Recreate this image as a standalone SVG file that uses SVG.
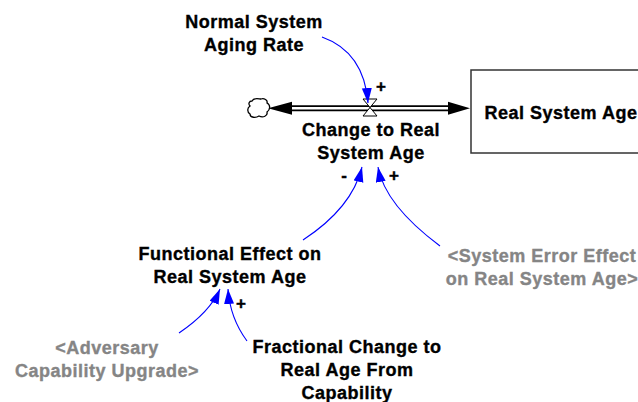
<svg xmlns="http://www.w3.org/2000/svg" width="638" height="402" viewBox="0 0 638 402">
  <style>
    .lbl { font-family: "Liberation Sans", Arial, sans-serif; font-weight: bold; font-size: 18px; letter-spacing: 0.5px; fill: #000; stroke: #000; stroke-width: 0.35; text-anchor: middle; }
    .ghost { fill: #858585; stroke: #858585; }
    .pol { font-family: "Liberation Sans", Arial, sans-serif; font-weight: bold; font-size: 17px; fill: #000; stroke: #000; stroke-width: 0.4; text-anchor: middle; }
    .link { fill: none; stroke: #0000ff; stroke-width: 1.1; marker-end: url(#head); }
  </style>
  <defs>
    <marker id="head" markerUnits="userSpaceOnUse" markerWidth="16" markerHeight="12" refX="15" refY="5" orient="auto">
      <path d="M0,0 L15,5 L0,10 Z" fill="#0000ff"/>
    </marker>
  </defs>

  <rect width="638" height="402" fill="#ffffff"/>

  <!-- flow pipe between source cloud and stock -->
  <g id="flow-pipe">
    <line x1="285" y1="108.3" x2="452" y2="108.3" stroke="#000" stroke-width="6"/>
    <line x1="285" y1="108.3" x2="452" y2="108.3" stroke="#fff" stroke-width="2.6"/>
    <path d="M268,108.3 L292,101.8 L292,114.8 Z" fill="#000"/>
    <path d="M470,108.3 L448,101.8 L448,114.8 Z" fill="#000"/>
  </g>

  <g id="source-cloud">
    <path d="M252,101 C254,97 259,99 261,99 C264,98 268,100 267,103 C271,105 270,110 267,112 C268,116 263,118 259,116 C256,118 250,118 250,114 C247,112 247,108 250,106 C248,104 249,101 252,101 Z" fill="#fff" stroke="#000" stroke-width="1.3"/>
  </g>

  <g id="stock-real-system-age">
    <rect x="471" y="70" width="200" height="83" fill="#fff" stroke="#333" stroke-width="1.5"/>
    <text class="lbl" x="561" y="119">Real System Age</text>
  </g>

  <g id="flow-change-to-real-system-age">
    <path d="M363,99 H377 L363,116 H377 Z" fill="#fff" stroke="#000" stroke-width="1"/>
    <text class="lbl" x="371" y="136">Change to Real</text>
    <text class="lbl" x="371" y="159">System Age</text>
  </g>

  <g id="normal-system-aging-rate">
    <text class="lbl" x="254" y="28">Normal System</text>
    <text class="lbl" x="254" y="51">Aging Rate</text>
  </g>

  <g id="functional-effect">
    <text class="lbl" x="230" y="260">Functional Effect on</text>
    <text class="lbl" x="230" y="283">Real System Age</text>
  </g>

  <g id="system-error-effect">
    <text class="lbl ghost" x="542" y="262">&lt;System Error Effect</text>
    <text class="lbl ghost" x="542" y="285">on Real System Age&gt;</text>
  </g>

  <g id="adversary-capability-upgrade">
    <text class="lbl ghost" x="107" y="354">&lt;Adversary</text>
    <text class="lbl ghost" x="107" y="377">Capability Upgrade&gt;</text>
  </g>

  <g id="fractional-change">
    <text class="lbl" x="347" y="353">Fractional Change to</text>
    <text class="lbl" x="347" y="376">Real Age From</text>
    <text class="lbl" x="347" y="399">Capability</text>
  </g>

  <!-- causal links with polarity -->
  <g id="connectors">
    <path class="link" d="M322,37 Q364,52 368,103"/>
    <path class="link" d="M303,240 Q352,208 362,167"/>
    <path class="link" d="M440,246 Q385,205 378,167"/>
    <path class="link" d="M179,333 Q210,312 220,289"/>
    <path class="link" d="M247,341 Q230,318 228,289"/>
    <text class="pol" x="381" y="92">+</text>
    <text class="pol" x="344" y="181">-</text>
    <text class="pol" x="394" y="181">+</text>
    <text class="pol" x="241" y="309">+</text>
  </g>
</svg>
